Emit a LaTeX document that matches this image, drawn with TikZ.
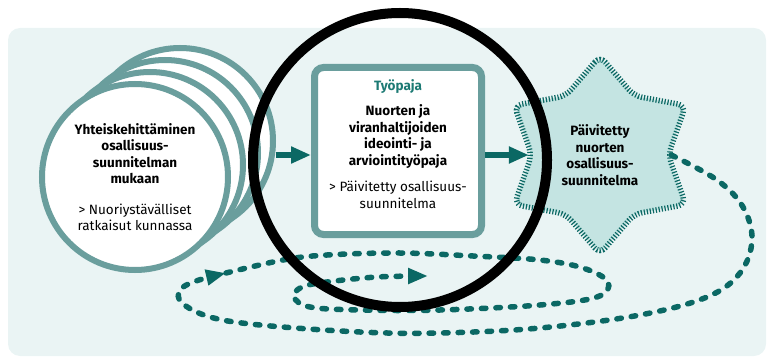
\documentclass[tikz,border=0pt]{standalone}
\usepackage{fontspec}
\setmainfont{Fira Sans}
\usepackage{tikz}
\usetikzlibrary{shapes.geometric,arrows.meta,positioning,calc}
\definecolor{bgteal}{RGB}{234,244,244}
\definecolor{greyteal}{RGB}{106,158,157}
\definecolor{darkteal}{RGB}{11,104,100}
\definecolor{starfill}{RGB}{196,228,226}
\definecolor{titleteal}{RGB}{28,122,116}

\begin{document}
\begin{tikzpicture}[x=1pt, y=-1pt,
    font=\fontsize{13.5}{16.5}\selectfont,
    stack/.style={circle, draw=greyteal, fill=white, line width=6, minimum size=186, inner sep=0},
    flow/.style={darkteal, line width=5.5, -{Triangle[length=20pt, width=16pt]}},
    loopline/.style={darkteal, line width=5.5, line cap=round, dash pattern=on 4.5pt off 10pt},
    looptip/.style={-{Triangle[length=20pt, width=15pt]}}]
    \useasboundingbox (0,0) rectangle (767,358);
    % Background
    \fill[bgteal, rounded corners=12] (8,28) rectangle (766,356);

    % Stack of circles
    \foreach \i in {3,2,1} {
        \node[stack] (c\i) at (135+15*\i, 177-12*\i) {};
    }
    \node[stack, align=center] (c0) at (135,177) {\textbf{Yhteiskehittäminen}\\ \textbf{osallisuus-}\\ \textbf{suunnitelman}\\ \textbf{mukaan}\\[14pt] > Nuoriystävälliset\\ ratkaisut kunnassa};

    % Workshop box
    \node[draw=greyteal, fill=white, line width=7, rounded corners=9, minimum width=167, minimum height=167, text depth=14pt, align=center] (box) at (398,151)
        {\textcolor{titleteal}{\textbf{Työpaja}}\\[9pt] \textbf{Nuorten ja}\\ \textbf{viranhaltijoiden}\\ \textbf{ideointi- ja}\\ \textbf{arviointityöpaja}\\[10pt] > Päivitetty osallisuus-\\ suunnitelma};

    % Star
    \node[star, star points=6, star point ratio=1.45, minimum size=198, inner sep=0, fill=starfill, draw=darkteal, line width=5.5, dash pattern=on 1.2pt off 1.8pt, rounded corners=8, align=center] (plan) at (600,155)
        {\textbf{Päivitetty}\\ \textbf{nuorten}\\ \textbf{osallisuus-}\\ \textbf{suunnitelma}};

    % Arrows
    \draw[flow] (c3.east |- plan.west) -- (box.west |- plan.west);
    \draw[flow] (box.east |- plan.west) -- (plan.west);

    % Dashed loop
    \coordinate (mid) at (226,273);
    \coordinate (loopend) at (428,276);
    \draw[loopline, looptip] plot[smooth, tension=0.6] coordinates {(plan.east) (717,180) (743,207) (752,240) (740,273) (707,297) (640,315) (540,328) (440,333) (360,332) (260,325) (210,317) (182,303) (180,290) (196,281) (mid)};
    \draw[loopline, looptip] plot[smooth, tension=0.6] coordinates {(mid) (283,260) (327,255) (400,253) (473,256) (540,260) (583,268) (608,282) (597,297) (540,305) (440,310) (360,310) (310,307) (294,297) (302,287) (327,282) (377,277) (loopend)};

    % Ring on top
    \node[circle, draw=black, line width=10, minimum size=294] (ring) at (400,160) {};
\end{tikzpicture}
\end{document}
